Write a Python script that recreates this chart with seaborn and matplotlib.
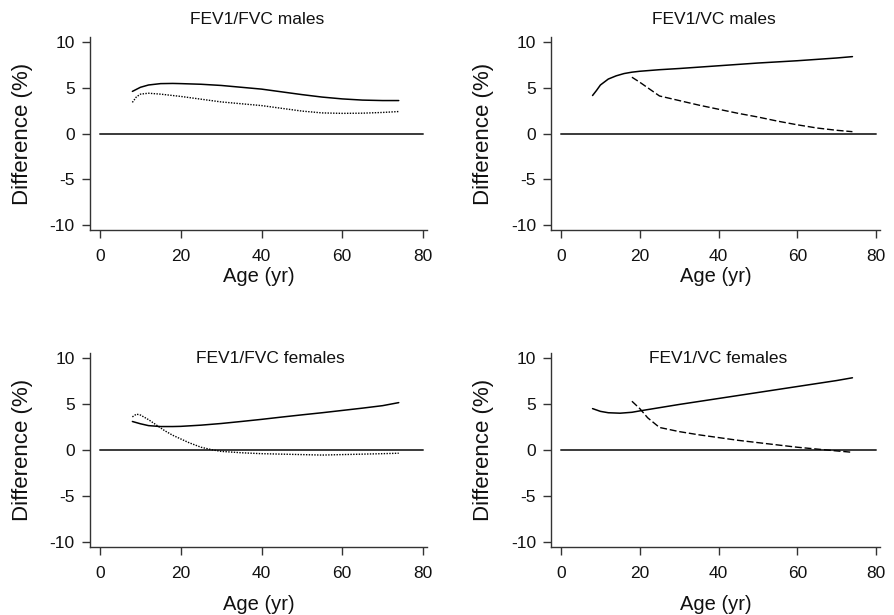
import numpy as np
import pandas as pd
import matplotlib
matplotlib.use("Agg")
import matplotlib.pyplot as plt
import seaborn as sns

# Difference (%) by age for each ratio and sex; two curves per panel.
fvc_m_age_a = [8, 10, 12, 15, 18, 20, 25, 30, 35, 40, 45, 50, 55, 60, 65, 70, 74]
fvc_m_val_a = [4.6, 5.05, 5.3, 5.45, 5.47, 5.45, 5.38, 5.25, 5.05, 4.85, 4.55, 4.25, 3.98, 3.78, 3.65, 3.6, 3.6]
fvc_m_age_b = [8, 9, 10, 12, 15, 18, 20, 25, 30, 35, 40, 45, 50, 55, 60, 65, 70, 74]
fvc_m_val_b = [3.4, 4.0, 4.3, 4.4, 4.3, 4.15, 4.05, 3.75, 3.45, 3.25, 3.05, 2.75, 2.45, 2.25, 2.2, 2.22, 2.3, 2.4]

vc_m_age_a = [8, 9, 10, 12, 14, 16, 18, 20, 25, 30, 40, 50, 60, 70, 74]
vc_m_val_a = [4.15, 4.7, 5.3, 5.95, 6.3, 6.55, 6.7, 6.8, 6.97, 7.1, 7.4, 7.7, 7.95, 8.25, 8.4]
vc_m_age_b = [18, 20, 22, 25, 30, 35, 40, 45, 50, 55, 60, 65, 70, 74]
vc_m_val_b = [6.15, 5.6, 5.0, 4.1, 3.6, 3.1, 2.65, 2.2, 1.8, 1.35, 0.95, 0.6, 0.35, 0.2]

fvc_f_age_a = [8, 10, 12, 15, 18, 20, 25, 30, 35, 40, 45, 50, 55, 60, 65, 70, 74]
fvc_f_val_a = [3.1, 2.85, 2.65, 2.55, 2.55, 2.57, 2.7, 2.88, 3.1, 3.33, 3.58, 3.82, 4.05, 4.3, 4.55, 4.82, 5.15]
fvc_f_age_b = [8, 9, 10, 12, 14, 16, 18, 20, 22, 25, 28, 30, 35, 40, 45, 50, 55, 60, 65, 70, 74]
fvc_f_val_b = [3.6, 3.9, 3.8, 3.3, 2.7, 2.1, 1.6, 1.2, 0.8, 0.3, 0.0, -0.15, -0.3, -0.4, -0.45, -0.5, -0.55, -0.5, -0.45, -0.4, -0.35]

vc_f_age_a = [8, 10, 12, 15, 18, 20, 25, 30, 40, 50, 60, 70, 74]
vc_f_val_a = [4.5, 4.2, 4.05, 4.0, 4.1, 4.25, 4.6, 4.95, 5.6, 6.25, 6.9, 7.55, 7.85]
vc_f_age_b = [18, 20, 22, 25, 30, 35, 40, 45, 50, 55, 60, 65, 70, 74]
vc_f_val_b = [5.3, 4.5, 3.5, 2.45, 2.0, 1.65, 1.35, 1.05, 0.8, 0.55, 0.3, 0.1, -0.1, -0.25]

titles = ["FEV1/FVC males", "FEV1/VC males", "FEV1/FVC females", "FEV1/VC females"]
x_ticks = [0, 20, 40, 60, 80]
y_ticks = [-10, -5, 0, 5, 10]
ref_x = [0, 80]
ref_y = [0, 0]

sns.set_theme(style="ticks")
plt.rcParams["font.family"] = ["Liberation Sans", "DejaVu Sans"]

fig = plt.figure(figsize=(8.95, 6.15), dpi=100)

W, H = 895.0, 615.0
# axes boxes in pixels: left, top, width, height
boxes = [
    (90.0, 37.4, 337.0, 192.2),
    (551.2, 37.4, 328.8, 192.2),
    (90.0, 353.4, 337.0, 193.2),
    (551.2, 353.4, 328.8, 193.2),
]
title_pos = [(0.496, 1.095), (0.495, 1.095), (0.534, 0.976), (0.507, 0.976)]
xlabel_pad = [2, 2, 10, 10]

series = [
    (fvc_m_age_a, fvc_m_val_a, fvc_m_age_b, fvc_m_val_b, (0, (1.0, 1.0))),
    (vc_m_age_a, vc_m_val_a, vc_m_age_b, vc_m_val_b, (0, (5.0, 2.0))),
    (fvc_f_age_a, fvc_f_val_a, fvc_f_age_b, fvc_f_val_b, (0, (1.0, 1.0))),
    (vc_f_age_a, vc_f_val_a, vc_f_age_b, vc_f_val_b, (0, (5.0, 2.0))),
]

for i, (box, title, (xa, ya, xb, yb, ls)) in enumerate(zip(boxes, titles, series)):
    l, t, w, h = box
    ax = fig.add_axes([l / W, 1 - (t + h) / H, w / W, h / H])
    ax.set_facecolor("white")

    ax.plot(ref_x, ref_y, color="#3a3a3a", lw=1.4, zorder=1)

    df_a = pd.DataFrame({"Age": xa, "Diff": ya})
    df_b = pd.DataFrame({"Age": xb, "Diff": yb})
    sns.lineplot(data=df_a, x="Age", y="Diff", ax=ax, color="black",
                 lw=1.1, estimator=None, sort=False, zorder=3)
    sns.lineplot(data=df_b, x="Age", y="Diff", ax=ax, color="black",
                 lw=1.0, estimator=None, sort=False, linestyle=ls, zorder=3)

    ax.set_xlim(-2.5, 81)
    ax.set_ylim(-10.5, 10.5)
    ax.set_xticks(x_ticks)
    ax.set_yticks(y_ticks)
    ax.set_yticklabels([str(v) for v in y_ticks])
    ax.tick_params(axis="both", direction="out", length=6, width=1.0,
                   color="#333333", labelsize=12.5, labelcolor="#111111")
    ax.tick_params(axis="x", pad=8)
    ax.tick_params(axis="y", pad=5)
    for s in ["top", "right"]:
        ax.spines[s].set_visible(False)
    for s in ["left", "bottom"]:
        ax.spines[s].set_linewidth(1.0)
        ax.spines[s].set_color("#333333")

    ax.set_xlabel("Age (yr)", fontsize=14.5, color="#111111", labelpad=xlabel_pad[i])
    ax.set_ylabel("Difference (%)", fontsize=16, color="#111111", labelpad=12)
    tx, ty = title_pos[i]
    ax.text(tx, ty, title, transform=ax.transAxes, ha="center", va="center",
            fontsize=12.5, color="#111111")

fig.savefig("out.png", dpi=100, facecolor="white")
